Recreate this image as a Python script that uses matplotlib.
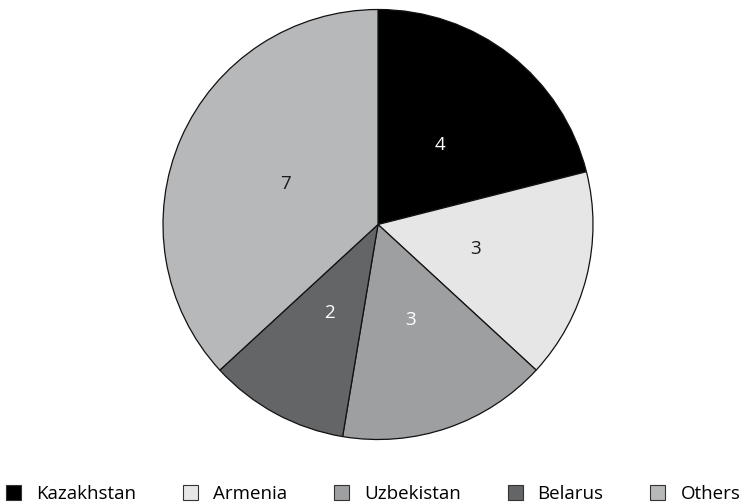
import matplotlib
matplotlib.use("Agg")
import matplotlib.pyplot as plt
from matplotlib.patches import Patch

categories = ["Kazakhstan", "Armenia", "Uzbekistan", "Belarus", "Others"]
values = [4, 3, 3, 2, 7]
colors = ["#000000", "#e6e6e6", "#9e9fa1", "#646567", "#b7b8ba"]
label_colors = ["white", "#1a1a1a", "white", "white", "#1a1a1a"]

plt.rcParams["font.family"] = ["Open Sans", "DejaVu Sans"]

W, H = 743, 504
fig = plt.figure(figsize=(W / 100, H / 100), dpi=100)
cx, cy, r = 378, 224.5, 215
ax = fig.add_axes([(cx - r) / W, (H - cy - r) / H, 2 * r / W, 2 * r / H])
wedges, texts = ax.pie(values, colors=colors, startangle=90, counterclock=False,
                       labels=[str(v) for v in values], labeldistance=0.47,
                       wedgeprops=dict(edgecolor="#111111", linewidth=0.9),
                       textprops=dict(fontsize=13.5))
for t, c in zip(texts, label_colors):
    t.set_color(c)
    t.set_ha("center")
    t.set_va("center")
ax.set_xlim(-1, 1)
ax.set_ylim(-1, 1)
ax.set_aspect("equal")
ax.axis("off")

handles = [Patch(facecolor=c, edgecolor="#333333", linewidth=0.8) for c in colors]
fs = 13.5
fig.legend(handles, categories, loc="lower left", bbox_to_anchor=(6 / W, 1 / H),
           ncol=5, frameon=False, fontsize=fs, borderpad=0, borderaxespad=0,
           handlelength=0.8, handleheight=0.8, handletextpad=0.8,
           columnspacing=2.5)

fig.savefig("out.png", dpi=100, facecolor="white")
